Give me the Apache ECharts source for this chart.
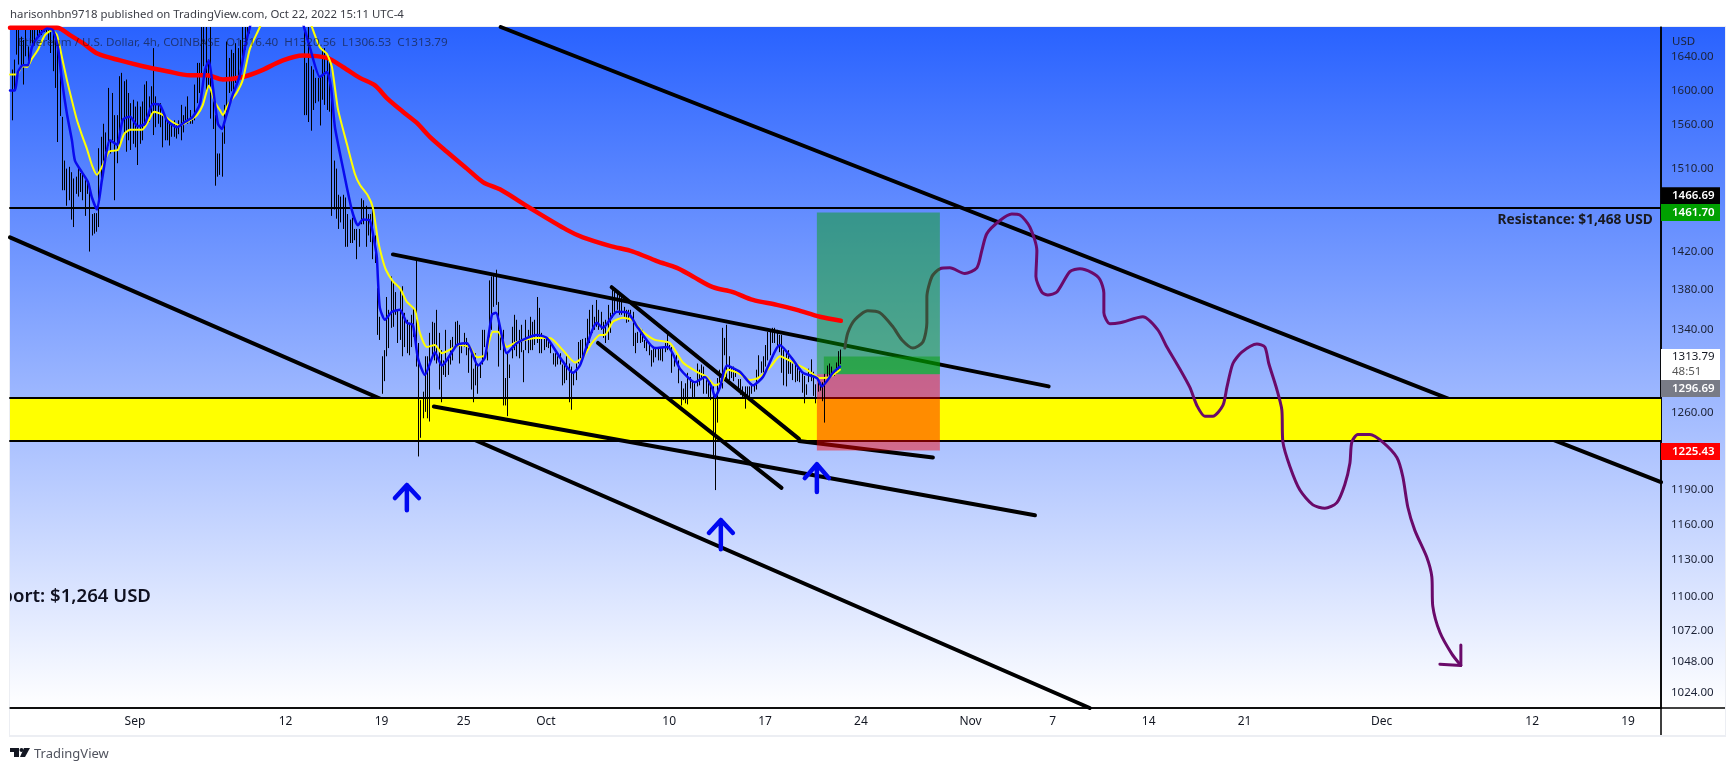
<!DOCTYPE html>
<html><head><meta charset="utf-8">
<style>html,body{margin:0;padding:0;background:#fff}#c{width:1735px;height:771px}</style>
<script src="https://cdn.jsdelivr.net/npm/echarts@6/dist/echarts.min.js"></script>
</head><body><div id="c"></div>
<script>
// x values are days since 1 Sep 2022; y values are USD prices on a log scale.
const dayMin=-9.12, dayMax=111.4, priceMin=1012.6, priceMax=1677;
const barStepDays=1/6;
const earlyStartDay=-9, lateStartDay=-9+128/6;

const earlyHigh=[1625,1637,1685,1675,1665,1661,1685,1653,1695,1690,1700,1700,1700,1700,1700,1700,1700,1695,1690,1669,1653,1620,1569,1519,1510,1512,1506,1499,1501,1512,1505,1505,1497,1497,1493,1460,1461,1461,1533,1546,1561,1551,1603,1542,1597,1571,1571,1617,1621,1611,1613,1597,1585,1589,1581,1587,1581,1587,1607,1611,1593,1605,1651,1593,1585,1585,1573,1569,1563,1565,1561,1565,1561,1565,1583,1571,1581,1593,1577,1569,1607,1633,1633,1700,1700,1700,1637,1700,1601,1571,1527,1527,1551,1583,1659,1639,1649,1645,1657,1651,1661,1700,1700,1710,1720];
const earlyLow=[1565,1601,1643,1631,1627,1607,1641,1629,1657,1653,1661,1665,1665,1667,1671,1669,1661,1645,1623,1603,1540,1570,1486,1486,1469,1475,1454,1446,1482,1479,1484,1475,1458,1482,1420,1437,1439,1441,1446,1493,1512,1529,1536,1527,1542,1475,1516,1534,1557,1549,1529,1542,1531,1538,1534,1514,1538,1542,1557,1561,1563,1573,1548,1557,1561,1557,1534,1542,1542,1536,1546,1546,1544,1549,1542,1551,1565,1561,1561,1561,1565,1585,1597,1617,1629,1597,1605,1567,1555,1491,1501,1503,1501,1538,1571,1597,1599,1601,1609,1611,1625,1633,1649,1661,1669];

const lateHigh=[1700,1633,1700,1629,1625,1615,1615,1617,1651,1651,1643,1641,1601,1519,1510,1481,1479,1481,1478,1460,1454,1456,1444,1444,1444,1477,1475,1469,1460,1460,1467,1437,
1382,1353,1314,1320,1373,1360,1394,1389,1378,1360,1382,1384,1357,1350,1347,1355,1362,1411,1327,1272,1280,1314,1314,1337,1348,1347,1360,1337,1320,1310,1340,1314,1330,1333,1348,1349,1345,1327,1337,1332,1322,1322,1302,1317,1307,1306,1340,1340,1320,1390,1394,1397,1401,1368,1340,1340,1293,1317,1306,1343,1355,1350,1340,1345,1320,1350,1340,1353,1348,1350,1373,1362,1337,1333,1333,1330,1328,1317,1317,1314,1317,1306,1307,1314,1307,1304,1298,1307,1328,1330,1331,1332,1351,1360,1365,1353,1370,1360,
1358,1348,1350,1365,1357,1383,1380,1378,1375,1373,1363,1360,1360,1360,1358,1337,1338,1337,1340,1330,1330,1327,1320,1322,1322,1322,1322,1323,1327,1337,1325,1323,1315,1315,1310,1290,1283,1288,1298,1294,1290,1288,1307,1301,1306,1304,1291,1290,1290,1285,1275,1293,1301,1342,1332,1345,1314,1304,1304,1302,1292,1292,1285,1285,1285,1285,1288,1286,1301,1315,1309,1314,1325,1338,1340,1342,1342,1340,1335,1335,1320,
1320,1320,1310,1307,1308,1303,1300,1297,1295,1287,1302,1311,1299,1287,1291,1289,1289,1297,1305,1307,1304,1300,1308,1319,1320.56];
const lateLow=[1571,1571,1563,1553,1577,1585,1587,1559,1589,1583,1577,1575,1458,1465,1455,1444,1451,1444,1425,1425,1429,1429,1432,1412,1425,1449,1449,1425,1437,1430,1412,1408,
1335,1330,1278,1290,1314,1322,1342,1343,1355,1327,1330,1314,1323,1317,1315,1323,1333,1304,1220,1237,1255,1261,1255,1252,1312,1310,1307,1282,1270,1296,1294,1296,1306,1310,1325,1323,1307,1317,1323,1315,1298,1282,1270,1286,1278,1293,1306,1323,1310,1330,1340,1363,1365,1304,1320,1267,1267,1257,1293,1312,1320,1314,1312,1318,1289,1320,1317,1320,1320,1325,1327,1317,1317,1320,1323,1322,1317,1306,1304,1306,1306,1286,1288,1291,1270,1263,1286,1291,1307,1310,1314,1317,1320,1327,1337,1340,1343,1340,
1340,1332,1327,1330,1337,1352,1358,1360,1355,1355,1353,1347,1348,1353,1324,1317,1327,1327,1328,1322,1319,1315,1304,1308,1313,1310,1310,1309,1318,1320,1320,1298,1304,1307,1288,1267,1272,1269,1268,1283,1274,1275,1285,1286,1291,1278,1278,1275,1272,1221,1190,1251,1283,1283,1315,1290,1291,1293,1290,1294,1280,1277,1275,1264,1275,1275,1278,1280,1282,1294,1298,1294,1304,1310,1315,1327,1327,1323,1318,1298,1286,
1285,1297,1297,1291,1289,1290,1289,1279,1269,1277,1289,1290,1276,1269,1280,1281,1271,1251,1294,1295,1294,1295,1297,1300,1306.53];

const emaRed=[[-9.12,1676],[-5.69,1676],[-4.74,1667],[-3.8,1657],[-2.7,1644],[-1.09,1636],[0.58,1629],[2.34,1623],[4.01,1618],[5.26,1618],[6.42,1613],[7.88,1616],[9.12,1623],[10.8,1636],[12.26,1642],[14.01,1639],[15.18,1628],[16.42,1615],[17.52,1606],[18.39,1591],[19.56,1575],[20.58,1562],[21.53,1546],[22.77,1529],[24.23,1510],[25.4,1495],[26.64,1487],[28.9,1466],[31.53,1443],[32.7,1435],[34.67,1426],[36.35,1420],[38.1,1410],[39.56,1403],[40.73,1394],[42.19,1383],[43.65,1378],[45.11,1370],[46.86,1365],[48.32,1360],[50,1353],[51.53,1349]];

const maYellowEarly=[[-9.12,1619],[-8.61,1619],[-8.25,1629],[-7.88,1628],[-7.52,1638],[-7.08,1649],[-6.57,1667],[-6.06,1673],[-5.69,1667],[-5.33,1640],[-4.96,1612],[-4.6,1588],[-4.23,1565],[-3.87,1548],[-3.5,1532],[-3.14,1514],[-2.77,1503],[-2.34,1514],[-1.9,1529],[-1.24,1531],[-0.8,1549],[-0.36,1554],[0.51,1554],[0.95,1563],[1.39,1575],[1.97,1572],[2.55,1565],[3.28,1559],[4.01,1565],[4.53,1571],[4.96,1583],[5.4,1606],[5.84,1586],[6.2,1577],[6.42,1571],[6.79,1583],[7.45,1598],[7.88,1613],[8.39,1650],[9.12,1677],[9.5,1695]];
const maYellowLate=[[12.6,1695],[12.92,1677],[13.5,1652],[14.01,1644],[14.38,1628],[14.82,1578],[15.47,1538],[16.06,1504],[16.42,1492],[17.01,1480],[17.37,1467],[17.74,1432],[18.03,1414],[18.32,1401],[18.83,1389],[19.34,1382],[19.85,1368],[20.44,1360],[20.8,1337],[21.31,1323],[21.9,1325],[22.41,1317],[23.21,1322],[23.72,1325],[24.45,1323],[24.96,1313],[25.55,1315],[26.13,1338],[26.5,1338],[27.15,1323],[27.88,1328],[29.34,1332],[30.29,1332],[31.24,1320],[32.12,1308],[32.7,1313],[33.36,1327],[33.94,1335],[34.31,1335],[34.89,1348],[35.62,1352],[36.28,1350],[37.08,1338],[37.96,1330],[39.05,1327],[40,1308],[41.02,1299],[41.75,1294],[42.34,1286],[42.85,1289],[43.28,1301],[44.01,1298],[44.89,1291],[45.47,1293],[46.35,1303],[47.08,1314],[48.03,1308],[49.05,1301],[50,1293],[50.73,1294],[51.46,1301]];

const maBlueEarly=[[-9.12,1600],[-8.76,1600],[-8.54,1622],[-8.18,1630],[-7.81,1630],[-7.52,1652],[-6.93,1668],[-6.42,1675],[-5.99,1673],[-5.62,1652],[-5.33,1612],[-4.96,1572],[-4.6,1542],[-4.38,1519],[-3.87,1506],[-3.43,1495],[-3.14,1478],[-2.77,1465],[-2.41,1497],[-1.82,1542],[-1.31,1537],[-0.88,1566],[-0.36,1569],[0.22,1558],[0.73,1561],[1.31,1584],[1.82,1583],[2.34,1565],[3.07,1557],[3.65,1563],[4.23,1569],[4.74,1584],[5.11,1624],[5.4,1636],[5.69,1604],[6.06,1561],[6.35,1555],[6.57,1565],[7.08,1592],[7.66,1618],[8.03,1652],[8.39,1677],[8.69,1695]];
const maBlueLate=[[12.04,1695],[12.34,1677],[12.77,1652],[13.5,1616],[14.01,1622],[14.31,1604],[14.6,1557],[15.18,1511],[15.84,1464],[16.28,1448],[16.64,1454],[17.15,1453],[17.52,1427],[17.66,1414],[17.74,1391],[17.88,1362],[18.25,1350],[18.76,1358],[19.34,1360],[19.85,1347],[20.29,1345],[20.66,1312],[21.17,1296],[21.9,1318],[22.41,1305],[23.5,1325],[24.23,1327],[25.04,1305],[25.55,1313],[26.06,1355],[26.35,1357],[27.15,1317],[27.88,1327],[29.34,1335],[30.07,1332],[31.02,1313],[31.97,1298],[32.48,1305],[33.72,1347],[34.16,1342],[35.18,1358],[35.99,1357],[36.72,1342],[37.96,1322],[38.91,1323],[39.78,1302],[40.88,1289],[41.61,1294],[42.12,1284],[42.34,1275],[42.7,1284],[43.21,1305],[44.16,1299],[45.11,1286],[45.84,1294],[47.08,1325],[47.96,1312],[48.76,1298],[49.78,1293],[50.15,1285],[50.95,1298],[51.46,1304]];

const penPath=[[51.82,1322],[52.04,1337],[52.55,1350],[53.5,1359],[54.38,1357],[55.33,1343],[55.99,1330],[56.79,1322],[57.52,1328],[57.81,1347],[57.81,1373],[58.18,1394],[58.76,1402],[59.49,1403],[60.58,1397],[61.46,1403],[61.82,1421],[62.19,1439],[63.14,1453],[64.01,1460],[64.6,1459],[65.33,1446],[65.84,1421],[65.77,1394],[66.2,1378],[66.64,1375],[67.3,1378],[68.25,1399],[68.98,1402],[69.85,1398],[70.44,1391],[70.73,1377],[70.73,1357],[71.17,1346],[71.9,1347],[73.58,1353],[74.67,1340],[75.33,1323],[76.13,1305],[77.01,1284],[77.52,1267],[78.1,1257],[78.69,1257],[79.42,1267],[79.71,1284],[80.15,1307],[80.8,1318],[81.9,1326],[82.48,1323],[82.77,1307],[83.36,1282],[83.72,1263],[83.8,1233],[84.31,1211],[85.04,1190],[85.99,1177],[86.86,1174],[87.74,1179],[88.32,1195],[88.69,1214],[88.83,1233],[89.27,1240],[90.15,1240],[91.09,1233],[92.12,1219],[92.55,1202],[92.92,1175],[93.43,1155],[94.31,1132],[94.67,1116],[94.74,1092],[95.26,1071],[96.13,1054],[96.79,1045]];
const penHead=[[95.26,1046],[96.79,1045],[96.79,1061]];

const channelUpper=[[26.7,1677],[111.4,1197]];
const channelLower=[[-9.12,1435],[69.7,1012.6]];
const wedgeUpper=[[18.83,1417],[66.7,1285]];
const wedgeLower=[[21.82,1266],[65.7,1168]];
const flagUpper=[[34.8,1383],[48.47,1236]];
const flagLower=[[33.8,1327],[47.2,1192]];
const flagFoot=[[48.47,1234],[58.25,1219]];
const resistanceLine=[[dayMin,1466.69],[dayMax,1466.69]];
const zoneTopLine=[[dayMin,1274],[dayMax,1274]];
const zoneBottomLine=[[dayMin,1234],[dayMax,1234]];

const arrowOne=[[19.85,1172.4],[19.85,1194.4],[18.98,1183],[19.85,1194.4],[20.73,1183]];
const arrowTwo=[[49.78,1188.4],[49.78,1213],[48.9,1200.6],[49.78,1213],[50.66,1200.6]];
const arrowThree=[[42.77,1139],[42.77,1163.9],[41.9,1152.8],[42.77,1163.9],[43.65,1152.8]];

// [dayStart, dayEnd, priceTop, priceBottom]
const yellowZone=[[dayMin,dayMax,1274,1234]];
const profitZone=[[49.78,58.76,1461.7,1296.69],[50.29,58.76,1313.79,1296.69]];
const lossZone=[[49.78,58.76,1296.69,1225.43]];

const priceTicks=[1640,1600,1560,1510,1420,1380,1340,1260,1220,1190,1160,1130,1100,1072,1048,1024];
const dateTicks=[[0,'Sep'],[11,'12'],[18,'19'],[24,'25'],[30,'Oct'],[39,'10'],[46,'17'],[53,'24'],[61,'Nov'],[67,'7'],[74,'14'],[81,'21'],[91,'Dec'],[102,'12'],[109,'19']];

// [label, position on the price scale, background, text colour]
const priceTags=[['1466.69',1480,'#000000','#ffffff'],['1461.70',1461.7,'#00a000','#ffffff'],['1296.69',1283,'#787b86','#ffffff'],['1225.43',1224.5,'#ff0000','#ffffff']];
const liveTag=['1313.79','48:51',1306];
const resistanceNote=['Resistance: $1,468 USD',110.8,1454];
const supportNote=['Support: $1,264 USD',1.17,1100];

const UI='"Noto Sans",Tahoma,sans-serif';
const tickMap=new Map(dateTicks);

function polyline(name,data,color,width,z,smooth){
  return {type:'line',name,data,z,silent:true,showSymbol:false,symbol:'none',clip:true,smooth:smooth||false,
    lineStyle:{color,width,cap:'round',join:'round'},emphasis:{disabled:true},animation:false};
}
function rects(name,data,fill,z){
  return {type:'custom',name,data,z,silent:true,clip:true,animation:false,encode:{x:[0,1],y:[2,3]},
    renderItem(p,api){
      const a=api.coord([api.value(0),api.value(2)]),b=api.coord([api.value(1),api.value(3)]);
      return {type:'rect',shape:{x:a[0],y:a[1],width:b[0]-a[0],height:b[1]-a[1]},style:{fill}};
    }};
}
const hlBars=[];
earlyHigh.forEach((h,i)=>hlBars.push([earlyStartDay+i*barStepDays,earlyLow[i],h]));
lateHigh.forEach((h,i)=>hlBars.push([lateStartDay+i*barStepDays,lateLow[i],h]));

const chart=echarts.init(document.getElementById('c'),null,{renderer:'canvas'});
chart.setOption({
  animation:false,
  textStyle:{fontFamily:UI},
  grid:{left:10,right:74,top:27,bottom:63,containLabel:false},
  xAxis:{type:'value',min:dayMin,max:dayMax,splitLine:{show:false},
    axisLine:{show:true,onZero:false,lineStyle:{color:'#000',width:1.5}},axisTick:{show:false},
    axisLabel:{customValues:dateTicks.map(d=>d[0]),formatter:v=>tickMap.get(v)||'',color:'#131722',fontSize:12,fontFamily:UI,margin:8,hideOverlap:false}},
  yAxis:{type:'log',logBase:10,position:'right',min:priceMin,max:priceMax,splitLine:{show:false},
    axisLine:{show:true,onZero:false,lineStyle:{color:'#000',width:1.5}},axisTick:{show:false},
    axisLabel:{customValues:priceTicks,formatter:v=>Number(v).toFixed(2),color:'#1c2236',fontSize:11.5,fontFamily:UI,margin:10,hideOverlap:false}},
  graphic:[
    {type:'rect',z:-10,shape:{x:9,y:26,width:1717,height:711},style:{fill:'#eceef3'}},
    {type:'rect',z:-9,shape:{x:10,y:708,width:1715,height:27},style:{fill:'#ffffff'}},
    {type:'rect',z:-8,shape:{x:10,y:27,width:1715,height:681},style:{fill:new echarts.graphic.LinearGradient(0,0,0,1,[{offset:0,color:'#2962ff'},{offset:1,color:'#ffffff'}])}},
    {type:'line',z:1,shape:{x1:1661,y1:27,x2:1661,y2:735},style:{stroke:'#000',lineWidth:1.5}},
    {type:'line',z:1,shape:{x1:10,y1:708,x2:1725,y2:708},style:{stroke:'#000',lineWidth:1.5}},
    {type:'text',z:50,x:10,y:9,style:{text:'harisonhbn9718 published on TradingView.com, Oct 22, 2022 15:11 UTC-4',fill:'#3b3d45',font:'11.4px '+UI}},
    {type:'text',z:50,x:18,y:37,style:{text:'Ethereum / U.S. Dollar, 4h, COINBASE  O1316.40  H1320.56  L1306.53  C1313.79',fill:'rgba(19,23,34,0.62)',font:'11.65px '+UI}},
    {type:'text',z:50,x:1672,y:36,style:{text:'USD',fill:'#1c2236',font:'11.5px '+UI}},
    {type:'polygon',z:50,shape:{points:[[10,748],[19,748],[19,757],[14,757],[14,752],[10,752]]},style:{fill:'#131722'}},
    {type:'circle',z:50,shape:{cx:21.5,cy:750,r:2},style:{fill:'#131722'}},
    {type:'polygon',z:50,shape:{points:[[24,748],[30,748],[25,757],[20,757]]},style:{fill:'#131722'}},
    {type:'text',z:50,x:34,y:748,style:{text:'TradingView',fill:'#50535e',font:'13px '+UI}}
  ],
  series:[
    polyline('Channel upper',channelUpper,'#000',4,1),
    polyline('Channel lower',channelLower,'#000',4,1),
    rects('Yellow zone',yellowZone,'#ffff00',2),
    polyline('Zone top',zoneTopLine,'#000',2,3),
    polyline('Zone bottom',zoneBottomLine,'#000',2,3),
    polyline('Resistance',resistanceLine,'#000',2,3),
    polyline('Wedge upper',wedgeUpper,'#000',4,3),
    polyline('Wedge lower',wedgeLower,'#000',4,3),
    polyline('Flag upper',flagUpper,'#000',4,3),
    polyline('Flag lower',flagLower,'#000',4,3),
    polyline('Flag foot',flagFoot,'#000',4,3),
    polyline('Forecast',penPath,'#6a0a6a',3,4,0.25),
    polyline('Forecast head',penHead,'#6a0a6a',3,4),
    rects('Profit zone',profitZone,'rgba(0,160,0,0.45)',5),
    rects('Loss zone',lossZone,'rgba(255,0,0,0.45)',5),
    {type:'custom',name:'ETHUSD 4h',data:hlBars,z:6,silent:true,clip:true,animation:false,encode:{x:0,y:[1,2]},
      renderItem(p,api){
        const a=api.coord([api.value(0),api.value(1)]),b=api.coord([api.value(0),api.value(2)]);
        const x=Math.round(a[0])+0.5;
        return {type:'line',shape:{x1:x,y1:a[1],x2:x,y2:b[1]},style:{stroke:'#000',lineWidth:1}};
      }},
    polyline('EMA red',emaRed,'#ff0000',4.5,7,0.3),
    polyline('MA yellow a',maYellowEarly,'#ffff00',2,7,0.2),
    polyline('MA yellow b',maYellowLate,'#ffff00',2,7,0.2),
    polyline('MA blue a',maBlueEarly,'#0a0aee',2.5,8,0.2),
    polyline('MA blue b',maBlueLate,'#0a0aee',2.5,8,0.2),
    polyline('Arrow 1',arrowOne,'#0008f0',4.5,9),
    polyline('Arrow 2',arrowTwo,'#0008f0',4.5,9),
    polyline('Arrow 3',arrowThree,'#0008f0',4.5,9),
    {type:'custom',name:'Notes',z:10,silent:true,clip:true,animation:false,encode:{x:1,y:2},
      data:[resistanceNote,supportNote],
      renderItem(p,api){
        const c=api.coord([api.value(1),api.value(2)]);
        const big=p.dataIndex===1;
        return {type:'text',x:c[0],y:c[1],style:{text:(big?supportNote:resistanceNote)[0],align:'right',verticalAlign:'middle',fill:big?'#0f1020':'#1a1a20',
          font:(big?'600 18.6px ':'700 13.7px ')+UI}};
      }},
    {type:'custom',name:'Price tags',z:11,silent:true,clip:false,animation:false,encode:{y:1},
      data:priceTags.map(t=>[t[0],t[1]]),
      renderItem(p,api){
        const tag=priceTags[p.dataIndex];
        const c=api.coord([dayMax,tag[1]]);
        return {type:'group',children:[
          {type:'rect',shape:{x:c[0],y:c[1]-8.5,width:59,height:17},style:{fill:tag[2]}},
          {type:'text',x:c[0]+11,y:c[1],style:{text:tag[0],fill:tag[3],verticalAlign:'middle',font:'600 11.5px '+UI}}]};
      }},
    {type:'custom',name:'Live tag',z:11,silent:true,clip:false,animation:false,encode:{y:2},
      data:[liveTag],
      renderItem(p,api){
        const c=api.coord([dayMax,liveTag[2]]);
        return {type:'group',children:[
          {type:'rect',shape:{x:c[0],y:c[1]-15.5,width:59,height:31},style:{fill:'#ffffff'}},
          {type:'text',x:c[0]+11,y:c[1]-8,style:{text:liveTag[0],fill:'#131722',verticalAlign:'middle',font:'11.5px '+UI}},
          {type:'text',x:c[0]+11,y:c[1]+7,style:{text:liveTag[1],fill:'#555',verticalAlign:'middle',font:'11.5px '+UI}}]};
      }}
  ]
});
</script></body></html>
